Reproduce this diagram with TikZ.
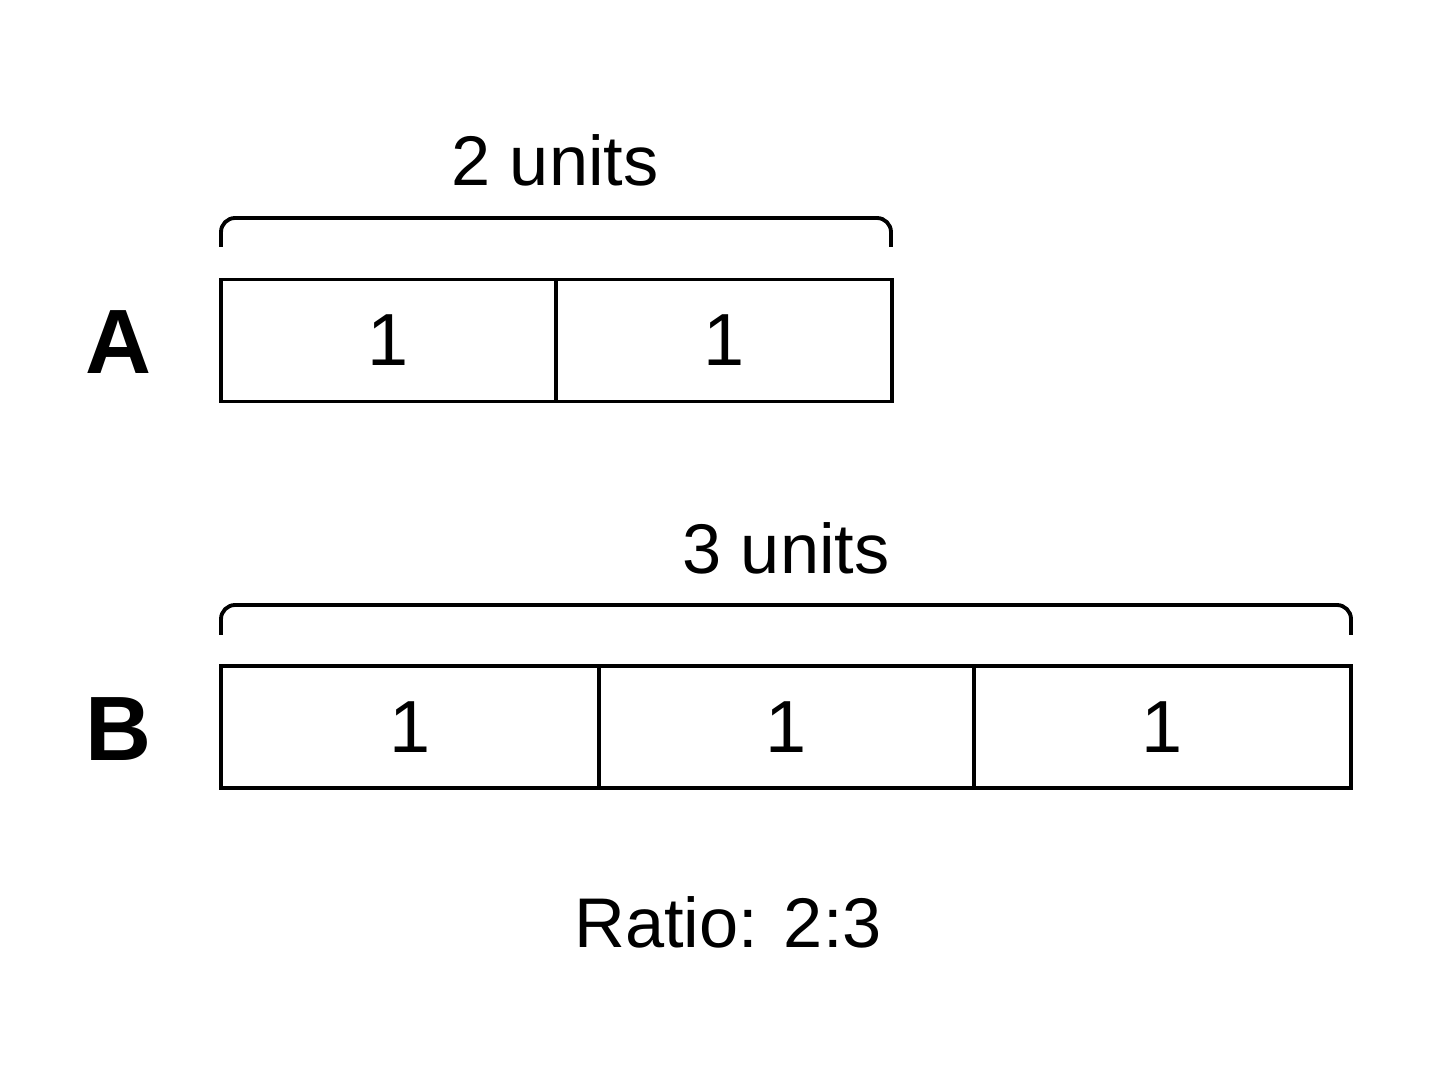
\documentclass[tikz,border=0pt]{standalone}
\usepackage{fontspec}
\setmainfont{Liberation Sans}
\begin{document}
\begin{tikzpicture}[x=0.01cm,y=-0.01cm,
  cell/.style={draw,line width=1.1pt,inner sep=0pt,minimum height=1.22cm,font=\fontsize{21}{25}\selectfont},
  lbl/.style={font=\fontsize{20}{24}\selectfont},
  bar/.style={font=\bfseries\fontsize{26}{30}\selectfont},
  brk/.style={line width=1.1pt,rounded corners=4pt}]
\useasboundingbox (0,0) rectangle (1448,1086);
\node [cell,minimum width=3.35cm] (a1) at (388.5,340.5) {1};
\node [cell,minimum width=3.36cm] (a2) at (724,340.5) {1};
\node [cell,minimum width=3.78cm] (b1) at (410,727) {1};
\node [cell,minimum width=3.75cm] (b2) at (786.5,727) {1};
\node [cell,minimum width=3.77cm] (b3) at (1162.5,727) {1};
\node [bar] (A) at (119,342) {A};
\node [bar] (B) at (119,729) {B};
\draw [brk] (221,247) -- (221,218) -- (891,218) -- (891,247);
\draw [brk] (221,635) -- (221,605) -- (1351,605) -- (1351,635);
\node [lbl] (ua) at (555,160) {2 units};
\node [lbl] (ub) at (786,548) {3 units};
\node [lbl] (ratio) at (728,922) {Ratio: 2:3};
\end{tikzpicture}
\end{document}
